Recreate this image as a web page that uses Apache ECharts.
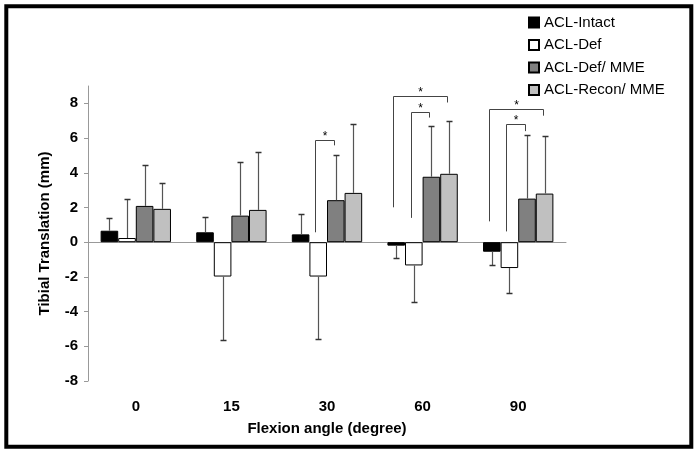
<!DOCTYPE html>
<html>
<head>
<meta charset="utf-8">
<script src="https://cdn.jsdelivr.net/npm/echarts@6/dist/echarts.min.js"></script>
<style>html,body{margin:0;padding:0;background:#fff}#c{width:699px;height:454px}</style>
</head>
<body>
<div id="c"></div>
<script>
// ---- data ----
const categories = ['0', '15', '30', '60', '90'];
const seriesNames = ['ACL-Intact', 'ACL-Def', 'ACL-Def/ MME', 'ACL-Recon/ MME'];
const intactMean = [0.66, 0.57, 0.45, -0.20, -0.55];
const intactSD   = [0.72, 0.89, 1.18, 0.71, 0.77];
const defMean    = [0.24, -1.98, -1.98, -1.34, -1.49];
const defSD      = [2.26, 3.64, 3.60, 2.12, 1.41];
const defMmeMean = [2.09, 1.53, 2.42, 3.77, 2.51];
const defMmeSD   = [2.37, 3.11, 2.62, 2.95, 3.66];
const reconMean  = [1.92, 1.86, 2.84, 3.94, 2.80];
const reconSD    = [1.50, 3.31, 3.95, 3.07, 3.32];
const yTicks = [-8, -6, -4, -2, 0, 2, 4, 6, 8];
// significance brackets (category index, left series, right series, y values)
const bracketCat      = [2, 3, 3, 4, 4];
const bracketLeft     = [1, 0, 1, 0, 1];
const bracketRight    = [2, 3, 2, 3, 2];
const bracketLeftLow  = [0.57, 2.01, 1.40, 1.20, 0.62];
const bracketTop      = [5.87, 8.41, 7.50, 7.68, 6.79];
const bracketRightLow = [5.58, 8.05, 7.18, 7.29, 6.40];
const bracketLabel    = ['*', '*', '*', '*', '*'];

// ---- chart ----
const means = [intactMean, defMean, defMmeMean, reconMean];
const sds = [intactSD, defSD, defMmeSD, reconSD];
const colors = ['#000000', '#ffffff', '#808080', '#c0c0c0'];
const BAR_FRAC = 0.184;
const FONT = 'Liberation Sans, Arial, sans-serif';

const chart = echarts.init(document.getElementById('c'));

const barSeries = seriesNames.map((n, s) => ({
  name: n,
  type: 'bar',
  xAxisIndex: 0,
  data: means[s],
  barWidth: (BAR_FRAC * 100) + '%',
  barGap: '0%',
  itemStyle: { color: colors[s], borderColor: '#000', borderWidth: 1 },
  emphasis: { disabled: true },
  z: 2
}));

const errData = [];
means.forEach((arr, s) => arr.forEach((m, i) => errData.push([i, m, sds[s][i], s])));

const errSeries = {
  type: 'custom',
  xAxisIndex: 0,
  z: 3,
  silent: true,
  data: errData,
  renderItem: function (params, api) {
    const i = api.value(0), m = api.value(1), sd = api.value(2), s = api.value(3);
    const cw = api.size([1, 0])[0];
    const bw = cw * BAR_FRAC;
    const p0 = api.coord([i, m]);
    const end = m >= 0 ? m + sd : m - sd;
    const p1 = api.coord([i, end]);
    const x = Math.round(p0[0] + (s - 1.5) * bw) + 0.5;
    const y1 = Math.round(p1[1]) + 0.5;
    return {
      type: 'group',
      children: [
        { type: 'line', shape: { x1: x, y1: p0[1], x2: x, y2: y1 }, style: { stroke: '#555', lineWidth: 1.2 } },
        { type: 'line', shape: { x1: x - 3, y1: y1, x2: x + 3, y2: y1 }, style: { stroke: '#333', lineWidth: 1.5 } }
      ]
    };
  }
};

const brData = bracketCat.map((c, k) => [c, bracketLeft[k], bracketRight[k], bracketLeftLow[k], bracketTop[k], bracketRightLow[k]]);
const bracketSeries = {
  type: 'custom',
  xAxisIndex: 0,
  z: 4,
  silent: true,
  data: brData,
  renderItem: function (params, api) {
    const c = api.value(0), l = api.value(1), r = api.value(2);
    const cw = api.size([1, 0])[0];
    const bw = cw * BAR_FRAC;
    const cx = api.coord([c, 0])[0];
    const xl = Math.round(cx + (l - 1.5) * bw - 3) + 0.5;
    const xr = Math.round(cx + (r - 1.5) * bw - 2) + 0.5;
    const yl = api.coord([c, api.value(3)])[1];
    const yt = Math.round(api.coord([c, api.value(4)])[1]) + 0.5;
    const yr = api.coord([c, api.value(5)])[1];
    return {
      type: 'group',
      children: [
        { type: 'polyline', shape: { points: [[xl, yl], [xl, yt], [xr, yt], [xr, yr]] }, style: { stroke: '#444', lineWidth: 1, fill: null } },
        { type: 'text', style: { text: bracketLabel[params.dataIndex], x: (xl + xr) / 2, y: yt - 4, align: 'center', verticalAlign: 'middle', font: '12px ' + FONT, fill: '#000' } }
      ]
    };
  }
};

chart.setOption({
  animation: false,
  backgroundColor: '#fff',
  grid: { left: 88, right: 133, top: 86, bottom: 73, containLabel: false },
  legend: {
    data: seriesNames,
    orient: 'vertical',
    left: 528,
    top: 15,
    padding: 0,
    itemWidth: 10,
    itemHeight: 10,
    itemGap: 7.5,
    icon: 'rect',
    textStyle: { fontSize: 15, fontFamily: FONT, color: '#000' }
  },
  xAxis: [
    {
      type: 'category',
      data: categories,
      axisLine: { onZero: true, lineStyle: { color: '#999', width: 1 } },
      axisTick: { show: false },
      axisLabel: { show: false },
      splitLine: { show: false }
    },
    {
      type: 'category',
      data: categories,
      position: 'bottom',
      axisLine: { show: false, onZero: false },
      axisTick: { show: false },
      axisLabel: { margin: 18, fontSize: 15, fontWeight: 'bold', fontFamily: FONT, color: '#000' },
      splitLine: { show: false },
      name: 'Flexion angle (degree)',
      nameLocation: 'middle',
      nameGap: 40,
      nameTextStyle: { fontSize: 15, fontWeight: 'bold', fontFamily: FONT, color: '#000' }
    }
  ],
  yAxis: {
    type: 'value',
    min: -8,
    max: 9,
    interval: 2,
    axisLine: { show: true, lineStyle: { color: '#999', width: 1 } },
    axisTick: { show: true, length: 4, customValues: yTicks, lineStyle: { color: '#999' } },
    axisLabel: { margin: 10, customValues: yTicks, fontSize: 15, fontWeight: 'bold', fontFamily: FONT, color: '#000',
      formatter: v => (yTicks.indexOf(v) >= 0 ? String(v) : '') },
    splitLine: { show: false },
    name: 'Tibial Translation (mm)',
    nameLocation: 'middle',
    nameRotate: 90,
    nameGap: 36,
    nameTextStyle: { fontSize: 15, fontWeight: 'bold', fontFamily: FONT, color: '#000' }
  },
  graphic: [
    { type: 'rect', shape: { x: 6.3, y: 6.3, width: 685, height: 440.4 }, style: { fill: null, stroke: '#000', lineWidth: 4 }, z: 100 }
  ],
  series: barSeries.concat([errSeries, bracketSeries])
});
</script>
</body>
</html>
